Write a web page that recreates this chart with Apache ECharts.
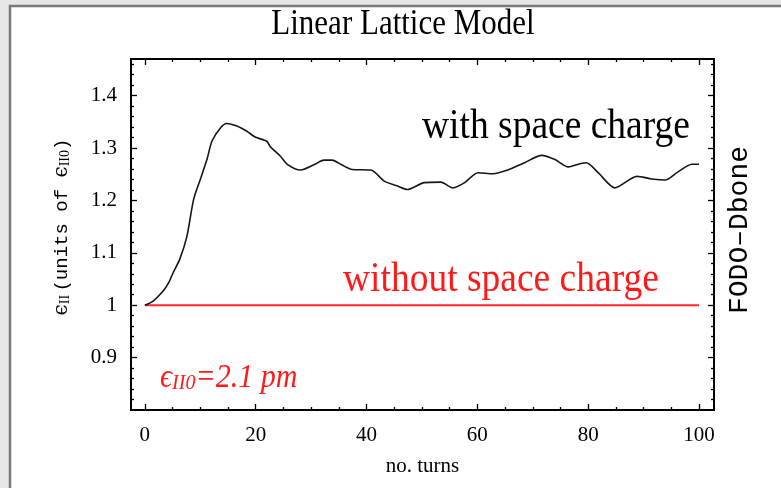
<!DOCTYPE html>
<html><head><meta charset="utf-8">
<script src="https://cdn.jsdelivr.net/npm/echarts@6/dist/echarts.min.js"></script>
<style>html,body{margin:0;padding:0;background:#e6e6e6}#c{width:781px;height:488px}</style>
</head><body><div id="c"></div>
<script>
// Data
const turns = [0, 1.5, 3.3, 4.3, 5.1, 6.3, 7.6, 8.8, 10, 11.2, 12.1, 13.6, 14.8, 16.6, 18.4, 19.9, 22, 22.6, 24.5, 25.7, 28.1, 30.5, 32.3, 33.8, 35.5, 37.4, 40.8, 43.2, 45.5, 47.4, 50.4, 53.4, 55.6, 57.7, 60.1, 62.8, 65.5, 68.5, 71.6, 74, 76.4, 78.5, 79.7, 81.8, 84.8, 88.8, 91.5, 93.9, 96, 98.7, 100];
const emitWith = [1.000, 1.008, 1.027, 1.043, 1.062, 1.088, 1.132, 1.202, 1.240, 1.278, 1.313, 1.338, 1.347, 1.342, 1.332, 1.321, 1.313, 1.303, 1.284, 1.269, 1.258, 1.268, 1.277, 1.277, 1.268, 1.259, 1.258, 1.237, 1.228, 1.221, 1.234, 1.235, 1.224, 1.234, 1.253, 1.251, 1.258, 1.272, 1.286, 1.278, 1.264, 1.270, 1.272, 1.253, 1.224, 1.246, 1.241, 1.239, 1.253, 1.269, 1.269];
const refTurns = [0, 100];
const refValues = [1, 1];
const xMajor = [0, 20, 40, 60, 80, 100];
const xMajorLabels = ['0', '20', '40', '60', '80', '100'];
const xMinor = [5, 10, 15, 25, 30, 35, 45, 50, 55, 65, 70, 75, 85, 90, 95];
const yMajor = [0.9, 1, 1.1, 1.2, 1.3, 1.4];
const yMajorLabels = ['0.9', '1', '1.1', '1.2', '1.3', '1.4'];
const yMinor = [0.82, 0.84, 0.86, 0.88, 0.92, 0.94, 0.96, 0.98, 1.02, 1.04, 1.06, 1.08, 1.12, 1.14, 1.16, 1.18, 1.22, 1.24, 1.26, 1.28, 1.32, 1.34, 1.36, 1.38, 1.42, 1.44, 1.46];

const X_MIN = -2.5, X_MAX = 102.7, Y_MIN = 0.8, Y_MAX = 1.47;
const MONO = '"Liberation Mono", "Courier New", monospace';
const SERIF = '"Liberation Serif", "Times New Roman", serif';

function axisBase(type, pos, ticks, len, labels) {
  const isX = type === 'x';
  const a = {
    type: 'value', position: pos,
    min: isX ? X_MIN : Y_MIN, max: isX ? X_MAX : Y_MAX,
    axisLine: { show: false, onZero: false },
    splitLine: { show: false },
    axisTick: { show: true, inside: true, length: len, customValues: ticks, lineStyle: { color: '#000', width: 1.3 } },
    axisLabel: { show: false }
  };
  if (labels) {
    a.axisLabel = {
      show: true, customValues: ticks, color: '#000', fontFamily: SERIF, fontSize: 21,
      margin: isX ? 15 : 14,
      formatter: function (v) {
        const i = ticks.findIndex(t => Math.abs(t - v) < 1e-6);
        return i >= 0 ? labels[i] : '';
      }
    };
  }
  return a;
}

const xAxes = [
  Object.assign(axisBase('x', 'bottom', xMajor, 6, xMajorLabels), {
    name: 'no. turns', nameLocation: 'middle', nameGap: 46,
    nameTextStyle: { fontFamily: SERIF, fontSize: 21, color: '#000' }
  }),
  axisBase('x', 'bottom', xMinor, 3),
  axisBase('x', 'top', xMajor, 6),
  axisBase('x', 'top', xMinor, 3)
];
const yAxes = [
  axisBase('y', 'left', yMajor, 6, yMajorLabels),
  axisBase('y', 'left', yMinor, 3),
  axisBase('y', 'right', yMajor, 6),
  axisBase('y', 'right', yMinor, 3)
];

const chart = echarts.init(document.getElementById('c'), null, { renderer: 'canvas' });
chart.setOption({
  animation: false,
  backgroundColor: '#e6e6e6',
  grid: { left: 131, right: 67, top: 59, bottom: 78, show: true, borderColor: '#000', borderWidth: 2, backgroundColor: '#fff' },
  xAxis: xAxes,
  yAxis: yAxes,
  series: [
    {
      type: 'line', xAxisIndex: 0, yAxisIndex: 0, showSymbol: false, symbol: 'none',
      data: refTurns.map((t, i) => [t, refValues[i]]),
      lineStyle: { color: '#ff2626', width: 2 }, z: 2
    },
    {
      type: 'line', xAxisIndex: 0, yAxisIndex: 0, showSymbol: false, symbol: 'none', smooth: 0.25,
      data: turns.map((t, i) => [t, emitWith[i]]),
      lineStyle: { color: '#161616', width: 1.6 }, z: 3
    }
  ],
  graphic: [
    { type: 'rect', z: -100, silent: true, shape: { x: 10, y: 6, width: 800, height: 500 },
      style: { fill: '#fff', stroke: '#7a7a7a', lineWidth: 2.5 } },
    { type: 'text', x: 403, y: 25, scaleY: 1.15, style: { text: 'Linear Lattice Model', fontFamily: SERIF, fontSize: 31, fill: '#000', textAlign: 'center', textVerticalAlign: 'middle' } },
    { type: 'text', x: 422, y: 127, scaleY: 1.12, style: { text: 'with space charge', fontFamily: SERIF, fontSize: 37.5, fill: '#000', textAlign: 'left', textVerticalAlign: 'middle' } },
    { type: 'text', x: 343, y: 280, scaleY: 1.12, style: { text: 'without space charge', fontFamily: SERIF, fontSize: 37.5, fill: '#ff1a1a', textAlign: 'left', textVerticalAlign: 'middle' } },
    { type: 'text', x: 160, y: 378, scaleY: 1.1, style: {
        text: '{e|ϵ}{s|II0}{t|=2.1 pm}', textAlign: 'left', textVerticalAlign: 'middle',
        rich: {
          e: { fontFamily: SERIF, fontSize: 30, fontStyle: 'italic', fill: '#ff1a1a', color: '#ff1a1a' },
          s: { fontFamily: SERIF, fontSize: 20, fontStyle: 'italic', fill: '#ff1a1a', color: '#ff1a1a', padding: [10, 0, 0, 0] },
          t: { fontFamily: SERIF, fontSize: 30, fontStyle: 'italic', fill: '#ff1a1a', color: '#ff1a1a' }
        } } },
    { type: 'text', x: 62, y: 227, rotation: Math.PI / 2, style: {
        text: '{e|ϵ}{s|II} {m|(units of }{e|ϵ}{s|II0}{m|)}', textAlign: 'center', textVerticalAlign: 'middle',
        rich: {
          e: { fontFamily: 'DejaVu Serif, serif', fontSize: 20, fill: '#000', color: '#000' },
          s: { fontFamily: SERIF, fontSize: 14, fill: '#000', color: '#000', padding: [6, 0, 0, 0] },
          m: { fontFamily: MONO, fontSize: 19, fill: '#000', color: '#000' }
        } } },
    { type: 'text', x: 740, y: 230, rotation: Math.PI / 2, style: { text: 'FODO\u2013Dbone', fontFamily: MONO, fontSize: 28, fill: '#000', textAlign: 'center', textVerticalAlign: 'middle' } }
  ]
});
</script>
</body></html>
